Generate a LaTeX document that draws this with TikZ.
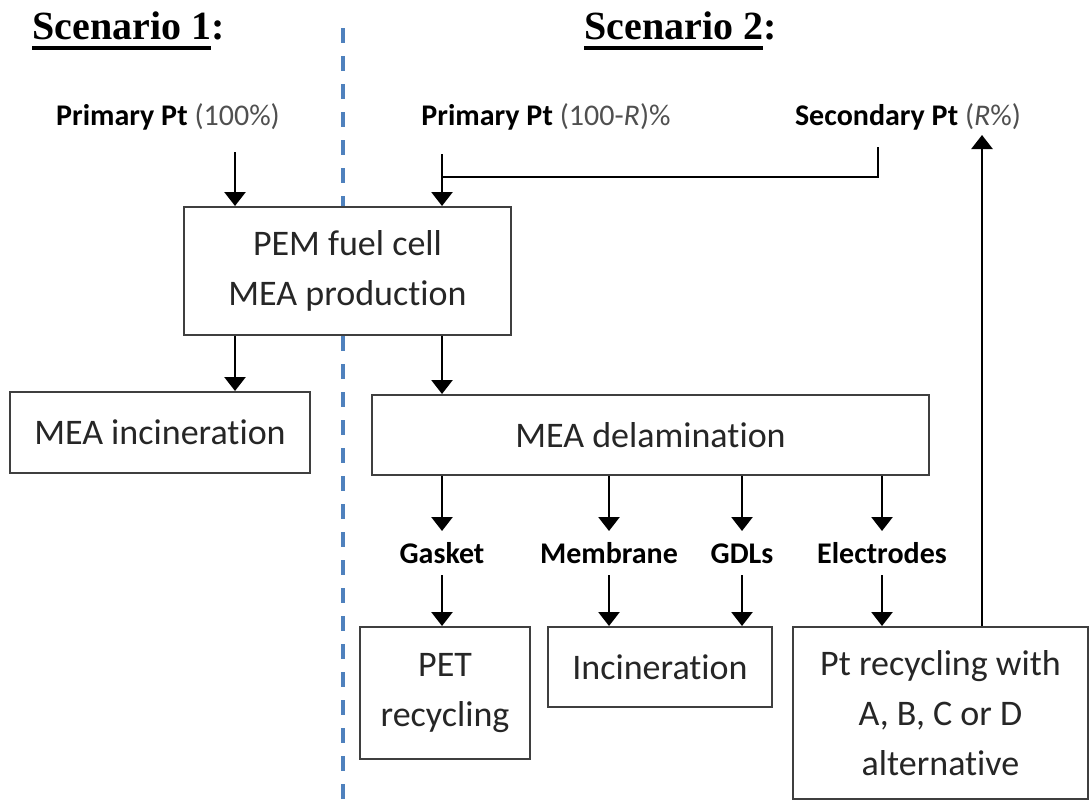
\documentclass[tikz,border=0pt]{standalone}
\usepackage{fontspec}
\setmainfont[Ligatures=NoCommon]{Carlito}
\newfontfamily\headfont{Liberation Serif}
\usetikzlibrary{arrows.meta,positioning,calc}
\definecolor{dashblue}{HTML}{4F81BD}
\definecolor{boxline}{HTML}{3F3F3F}
\definecolor{boxtext}{HTML}{262626}
\definecolor{pctgray}{HTML}{505050}
% underlined heading text
\newcommand\ulhead[1]{\setbox0\hbox{#1}\rlap{\rule[-5.5pt]{\wd0}{1.8pt}}\box0}

\begin{document}
\begin{tikzpicture}[x=0.5pt,y=-0.5pt,
    box/.style={draw=boxline,line width=1pt,fill=white,align=center,text=boxtext,
      font=\fontsize{18}{25}\selectfont,inner sep=0pt},
    part/.style={font=\fontsize{15}{18}\selectfont\bfseries,inner sep=0pt,
      text height=10pt,text depth=0pt,outer sep=6pt},
    src/.style={font=\fontsize{15}{18}\selectfont,inner sep=0pt},
    head/.style={font=\headfont\bfseries\fontsize{20}{24}\selectfont,inner sep=0pt,anchor=base west},
    arr/.style={-{Triangle[width=10.5pt,length=7pt]},line width=1.3pt}]
  \useasboundingbox (0,0) rectangle (1091,810);

  % divider between the two scenarios
  \draw[dashblue,line width=1.8pt,dash pattern=on 7.5pt off 6.5pt] (343,28) -- (343,805);

  \node[head] (sc1) at (32,39) {\ulhead{Scenario 1}:};
  \node[head] (sc2) at (584,39) {\ulhead{Scenario 2}:};

  % Pt inputs
  \node[src] (pri1) at (168,117) {\textbf{Primary Pt} \textcolor{pctgray}{(100\%)}};
  \node[src] (pri2) at (546,117) {\textbf{Primary Pt} \textcolor{pctgray}{(100-\textit{R})\%}};
  \node[src] (sec) at (908,117) {\textbf{Secondary Pt} \textcolor{pctgray}{(\textit{R}\%)}};
  \coordinate (in1) at (235,152);
  \coordinate (in2) at (442,154);
  \coordinate (in3) at (878,147);
  \coordinate (join) at (442,177);
  \coordinate (back) at (982,135);

  % boxes
  \node[box,minimum width=163.5pt,minimum height=64pt] (pem) at (347.5,271)
    {PEM fuel cell\\MEA production};
  \node[box,minimum width=150pt,minimum height=40.5pt] (inc1) at (160,432.5)
    {MEA incineration};
  \node[box,minimum width=278.5pt,minimum height=40pt] (dlm) at (650.5,435)
    {MEA delamination};
  \node[box,minimum width=85pt,minimum height=66pt] (pet) at (445,693)
    {PET\\recycling};
  \node[box,minimum width=112pt,minimum height=40pt] (inc2) at (660,667)
    {Incineration};
  \node[box,minimum width=147.5pt,minimum height=86pt] (ptrec) at (940.5,713)
    {Pt recycling with\\A, B, C or D\\alternative};

  % MEA parts
  \node[part] (gsk) at (442,553) {Gasket};
  \node[part] (mem) at (609,553) {Membrane};
  \node[part] (gdl) at (742,553) {GDLs};
  \node[part] (elc) at (882,553) {Electrodes};

  % flows
  \draw[arr] (in1) -- (in1 |- pem.north);
  \draw[arr] (in2) -- (in2 |- pem.north);
  \draw[line width=1.3pt] (in3) |- (join);
  \draw[arr] (pem.south -| in1) -- (inc1.north -| in1);
  \draw[arr] (pem.south -| in2) -- (dlm.north -| in2);
  \draw[arr] (dlm.south -| gsk) -- (gsk.north);
  \draw[arr] (dlm.south -| mem) -- (mem.north);
  \draw[arr] (dlm.south -| gdl) -- (gdl.north);
  \draw[arr] (dlm.south -| elc) -- (elc.north);
  \draw[arr] (gsk.south) -- (pet.north -| gsk);
  \draw[arr] (mem.south) -- (inc2.north -| mem);
  \draw[arr] (gdl.south) -- (inc2.north -| gdl);
  \draw[arr] (elc.south) -- (ptrec.north -| elc);
  \draw[arr] (ptrec.north -| back) -- (back);
\end{tikzpicture}
\end{document}
